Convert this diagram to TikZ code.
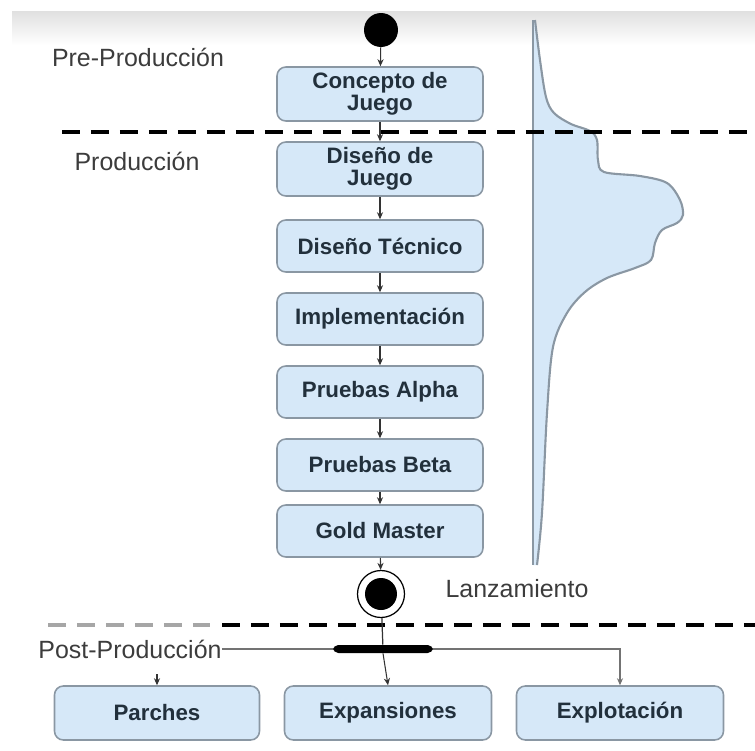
\documentclass[tikz,border=0pt]{standalone}
\usepackage{fontspec}
\setmainfont{Liberation Sans}
\usetikzlibrary{arrows.meta}

\definecolor{boxfill}{HTML}{D6E8F8}
\definecolor{boxline}{HTML}{8A97A3}
\definecolor{boxtext}{HTML}{22303C}
\definecolor{labeltext}{HTML}{3C3C3C}

\tikzset{
  fase/.style={draw=boxline, fill=boxfill, rounded corners=5pt, line width=0.9pt,
    minimum width=4.12cm, minimum height=1.04cm, inner sep=0pt, align=center,
    text=boxtext, font=\fontsize{12.7}{12.5}\selectfont\bfseries},
  etapa/.style={text=labeltext, font=\fontsize{14.2}{16}\selectfont, inner sep=0pt},
  flow/.style={-{Stealth[length=4pt,width=3.5pt]}, draw=black!80, line width=0.6pt},
  plain/.style={draw=black!55, line width=0.7pt},
  sepline/.style={line width=1.9pt, dash pattern=on 0.36cm off 0.22cm},
}

\begin{document}
\begin{tikzpicture}[x=0.02cm, y=-0.02cm]

\useasboundingbox (0,0) rectangle (755,751);
\shade[top color=black!12, bottom color=white] (12,11) rectangle (755,45);

\fill[boxfill] plot[smooth, tension=0.55] coordinates {(535,20) (540,60) (546,97) (554,113) (571,124)
  (590,131) (597,140) (598,160) (604,172) (640,176) (667,183) (680,200) (683,215) (677,223)
  (662,230) (655,243) (651,260) (635,268) (607,278) (585,292) (567,313) (553,347) (547,413)
  (542,513) (537,565)} -- (533,565) -- (533,20) -- cycle;
\draw[boxline, line width=1.2pt] plot[smooth, tension=0.55] coordinates {(535,20) (540,60) (546,97) (554,113) (571,124)
  (590,131) (597,140) (598,160) (604,172) (640,176) (667,183) (680,200) (683,215) (677,223)
  (662,230) (655,243) (651,260) (635,268) (607,278) (585,292) (567,313) (553,347) (547,413)
  (542,513) (537,565)};
\draw[boxline, line width=1.2pt] (533,20) -- (533,565);

\draw[sepline] (62,132) -- (755,132);
\draw[sepline, black!35] (48,625) -- (210,625);
\draw[sepline] (222,625) -- (755,625);

\node (pre)  at (138,57)  [etapa] {Pre-Producción};
\node (prod) at (137,161) [etapa] {Producción};
\node (post) at (130,649) [etapa] {Post-Producción};
\node (lanz) at (517,589) [etapa] {Lanzamiento};

\node (start) at (381,30) [circle, fill=black, minimum size=0.68cm, inner sep=0pt] {};

\node (concepto) at (380,94)  [fase, minimum height=1.08cm] {Concepto de\\Juego};
\node (disjuego) at (380,169) [fase, minimum height=1.08cm] {Diseño de\\Juego};
\node (distec)   at (380,246) [fase] {Diseño Técnico};
\node (impl)     at (380,319) [fase] {Implementación};
\node (alpha)    at (380,392) [fase] {Pruebas Alpha};
\node (beta)     at (380,465) [fase] {Pruebas Beta};
\node (gold)     at (380,531) [fase] {Gold Master};

\node (fin) at (381,594) [circle, draw=black, line width=0.7pt, minimum size=0.94cm, inner sep=0pt] {};
\fill[black] (fin.center) circle (0.32cm);

\node (fork) at (383,649) [fill=black, rounded corners=3pt, minimum width=2cm, minimum height=0.16cm, inner sep=0pt] {};

\node (parches)     at (157,713) [fase, minimum width=4.1cm, minimum height=1.08cm] {Parches};
\node (expansiones) at (388,713) [fase, minimum width=4.14cm, minimum height=1.08cm] {Expansiones};
\node (explotacion) at (620,713) [fase, minimum width=4.14cm, minimum height=1.08cm] {Explotación};

\coordinate (pa) at (157,674);

\draw[flow] (start) -- (concepto);
\foreach \a/\b in {concepto/disjuego, disjuego/distec, distec/impl, impl/alpha, alpha/beta, beta/gold} {
  \draw[flow] (\a) -- (\b);
}
\draw[flow] (gold) -- (fin);
\draw[plain, draw=black!80] (fin) -- (fork);

\draw[plain] (post.east) -- (fork.west);
\draw[flow] (fork.south) -- (expansiones.north);
\draw[flow, draw=black!55] (fork.east) -| (explotacion.north);
\draw[flow] (pa) -- (parches.north);

\end{tikzpicture}
\end{document}
